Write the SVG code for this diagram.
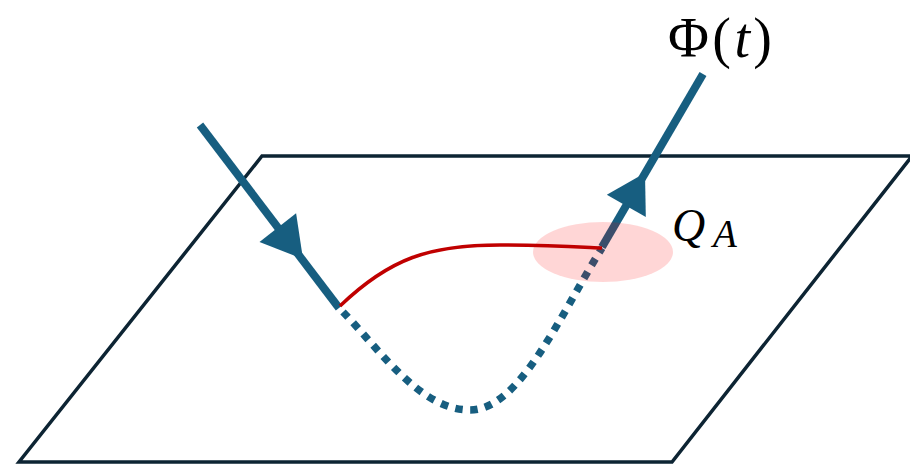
<svg xmlns="http://www.w3.org/2000/svg" width="910" height="467" viewBox="0 0 910 467">
<style>
.plane{fill:none;stroke:#0d2433;stroke-width:3.5;stroke-linejoin:miter}
.flux{fill:none;stroke:#175e80;stroke-width:8;stroke-linecap:butt}
.dots{fill:none;stroke:#175e80;stroke-width:7.5;stroke-dasharray:7.5 7.5}
.head{fill:#175e80}
.arc{fill:none;stroke:#c00000;stroke-width:3.5}
.tx{font-family:"Liberation Serif","DejaVu Serif",serif;fill:#000}
</style>
<rect width="910" height="467" fill="#fff"/>
<g id="plane">
<polygon class="plane" points="262,156 912,156 672,462 19,462"/>
</g>
<g id="connectors">
<path class="dots" d="M343,312 C380,350 420,410 470,410 C520,410 560,315 602,248"/>
<path id="incoming" class="flux" d="M200,125 L339,308"/>
<polygon class="head" points="303,259 259.5,242 296.1,213.3"/>
<path id="outgoing" class="flux" d="M602,247 L703,74"/>
<polygon class="head" points="645,173 606.8,194.7 645.8,217"/>
</g>
<g id="region">
<ellipse cx="603" cy="252" rx="70" ry="30" fill="#ff0000" fill-opacity="0.16"/>
</g>
<g id="curve">
<path class="arc" d="M340,306 C390,258 430,245 500,245 C550,245 580,247 602,248"/>
</g>
<g id="label-phi">
<text class="tx" x="668" y="57" font-size="56" textLength="104" lengthAdjust="spacing">Φ(<tspan font-style="italic">t</tspan>)</text>
</g>
<g id="label-qa">
<text class="tx" x="672" y="241" font-size="46" font-style="italic">Q<tspan x="713" y="247" font-size="39">A</tspan></text>
</g>
</svg>
